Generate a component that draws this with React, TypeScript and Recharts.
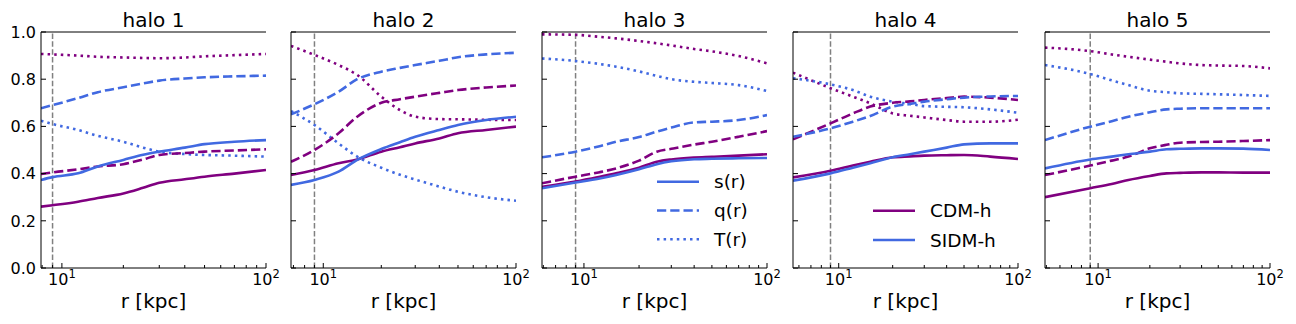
import React from "react"
import { LineChart, Line, XAxis, YAxis, ReferenceLine } from "recharts"

// --- data ---
const HALOS = ["halo 1", "halo 2", "halo 3", "halo 4", "halo 5"]
const R_MIN = [7.9, 6.8, 5.9, 5.56, 4.91]
const R_OUTER = [9, 12, 15, 20, 25, 30, 40, 50, 70, 100]
const R_RES = 9
const Y_TICKS = [0, 0.2, 0.4, 0.6, 0.8, 1.0]
const MINOR_LOW = [2, 3, 4, 5, 6, 7, 8, 9]
const MINOR_HIGH = [20, 30, 40, 50, 60, 70, 80, 90]

// s(r)
const CDM_S = [
  [0.26, 0.266, 0.281, 0.297, 0.316, 0.34, 0.361, 0.376, 0.387, 0.4, 0.415],
  [0.394, 0.415, 0.444, 0.46, 0.493, 0.512, 0.528, 0.549, 0.571, 0.585, 0.599],
  [0.344, 0.366, 0.385, 0.401, 0.425, 0.45, 0.46, 0.468, 0.471, 0.476, 0.482],
  [0.384, 0.412, 0.434, 0.45, 0.469, 0.473, 0.476, 0.478, 0.479, 0.472, 0.462],
  [0.3, 0.338, 0.356, 0.373, 0.39, 0.401, 0.403, 0.405, 0.405, 0.404, 0.404],
]
const SIDM_S = [
  [0.373, 0.385, 0.401, 0.43, 0.458, 0.48, 0.493, 0.51, 0.525, 0.535, 0.542],
  [0.352, 0.373, 0.408, 0.458, 0.504, 0.533, 0.556, 0.585, 0.606, 0.627, 0.641],
  [0.338, 0.362, 0.378, 0.394, 0.418, 0.44, 0.452, 0.461, 0.463, 0.465, 0.466],
  [0.37, 0.401, 0.425, 0.444, 0.469, 0.482, 0.493, 0.51, 0.524, 0.528, 0.528],
  [0.422, 0.46, 0.472, 0.482, 0.493, 0.503, 0.505, 0.507, 0.507, 0.506, 0.5],
]
// q(r)
const CDM_Q = [
  [0.398, 0.405, 0.418, 0.43, 0.44, 0.46, 0.479, 0.487, 0.493, 0.498, 0.503],
  [0.45, 0.5, 0.571, 0.641, 0.7, 0.715, 0.726, 0.742, 0.754, 0.765, 0.773],
  [0.359, 0.387, 0.405, 0.422, 0.455, 0.493, 0.505, 0.523, 0.535, 0.556, 0.58],
  [0.545, 0.613, 0.655, 0.684, 0.7, 0.706, 0.712, 0.72, 0.726, 0.722, 0.712],
  [0.394, 0.434, 0.455, 0.472, 0.507, 0.522, 0.531, 0.534, 0.535, 0.538, 0.542],
]
const SIDM_Q = [
  [0.677, 0.69, 0.72, 0.745, 0.766, 0.782, 0.794, 0.803, 0.808, 0.812, 0.815],
  [0.651, 0.694, 0.747, 0.8, 0.832, 0.848, 0.86, 0.878, 0.893, 0.905, 0.912],
  [0.469, 0.493, 0.515, 0.535, 0.555, 0.578, 0.595, 0.617, 0.62, 0.627, 0.648],
  [0.556, 0.592, 0.62, 0.644, 0.684, 0.695, 0.705, 0.715, 0.722, 0.727, 0.729],
  [0.542, 0.599, 0.622, 0.641, 0.66, 0.672, 0.675, 0.677, 0.677, 0.677, 0.677],
]
// T(r)
const CDM_T = [
  [0.907, 0.905, 0.9, 0.895, 0.892, 0.89, 0.889, 0.892, 0.897, 0.902, 0.907],
  [0.941, 0.903, 0.86, 0.818, 0.726, 0.669, 0.641, 0.631, 0.63, 0.628, 0.627],
  [0.99, 0.988, 0.98, 0.973, 0.962, 0.952, 0.943, 0.928, 0.918, 0.898, 0.867],
  [0.828, 0.762, 0.726, 0.698, 0.655, 0.645, 0.638, 0.627, 0.62, 0.62, 0.628],
  [0.934, 0.919, 0.905, 0.895, 0.883, 0.874, 0.867, 0.86, 0.858, 0.856, 0.846],
]
const SIDM_T = [
  [0.624, 0.61, 0.585, 0.56, 0.535, 0.51, 0.493, 0.483, 0.479, 0.476, 0.472],
  [0.665, 0.606, 0.528, 0.472, 0.425, 0.395, 0.375, 0.345, 0.323, 0.3, 0.285],
  [0.888, 0.877, 0.865, 0.853, 0.833, 0.814, 0.8, 0.789, 0.784, 0.775, 0.75],
  [0.804, 0.778, 0.754, 0.726, 0.705, 0.695, 0.686, 0.683, 0.681, 0.672, 0.658],
  [0.86, 0.822, 0.795, 0.775, 0.751, 0.745, 0.74, 0.738, 0.736, 0.733, 0.729],
]

const PURPLE = "#800080"
const BLUE = "#4169e1"
const FONT = "DejaVu Sans"
const DASHED = "9.25 4"
const DOTTED = "2.5 4.1"

const SERIES = [
  { key: "cdmT", color: PURPLE, dash: DOTTED },
  { key: "sidmT", color: BLUE, dash: DOTTED },
  { key: "cdmQ", color: PURPLE, dash: DASHED },
  { key: "sidmQ", color: BLUE, dash: DASHED },
  { key: "cdmS", color: PURPLE, dash: undefined },
  { key: "sidmS", color: BLUE, dash: undefined },
]

// layout
const PLOT_LEFT = [41, 291, 542, 793, 1045]
const PLOT_W = 225
const PLOT_TOP = 32
const PLOT_BOTTOM = 268
const Y_AXIS_W = 40
const RIGHT_PAD = 30

function XTick(props: any) {
  const { x, y, payload } = props
  const v = payload.value
  const major = v === 10 || v === 100
  return (
    <g>
      <line x1={x} x2={x} y1={y} y2={y - (major ? 5 : 3)} stroke="#000" strokeWidth={1} />
      {major && (
        <text x={x} y={y + 17} textAnchor="middle" fontFamily={FONT} fontSize={16} fill="#000">
          10
          <tspan dy={-7} fontSize={11.5}>{v === 10 ? "1" : "2"}</tspan>
        </text>
      )}
    </g>
  )
}

function YTickLeft(props: any) {
  const { x, y, payload, showLabel } = props
  return (
    <g>
      <line x1={x} x2={x + 5} y1={y} y2={y} stroke="#000" strokeWidth={1} />
      {showLabel && (
        <text x={x - 5} y={y} dy="0.36em" textAnchor="end" fontFamily={FONT} fontSize={16} fill="#000">
          {Number(payload.value).toFixed(1)}
        </text>
      )}
    </g>
  )
}

function YTickRight(props: any) {
  const { x, y } = props
  return <line x1={x} x2={x - 5} y1={y} y2={y} stroke="#000" strokeWidth={1} />
}

function Panel({ h }: { h: number }) {
  const rs = [R_MIN[h], ...R_OUTER]
  const data = rs.map((r, i) => ({
    r,
    cdmS: CDM_S[h][i],
    sidmS: SIDM_S[h][i],
    cdmQ: CDM_Q[h][i],
    sidmQ: SIDM_Q[h][i],
    cdmT: CDM_T[h][i],
    sidmT: SIDM_T[h][i],
  }))
  const xticks = [...MINOR_LOW.filter((v) => v >= R_MIN[h]), 10, ...MINOR_HIGH, 100]

  return (
    <div style={{ position: "absolute", left: PLOT_LEFT[h] - Y_AXIS_W, top: 0 }}>
      <LineChart
        width={Y_AXIS_W + PLOT_W + RIGHT_PAD}
        height={324}
        data={data}
        margin={{ top: PLOT_TOP, right: RIGHT_PAD, bottom: 0, left: 0 }}
        style={{ overflow: "visible" }}
      >
        <XAxis
          dataKey="r"
          type="number"
          scale="log"
          domain={[R_MIN[h], 100]}
          allowDataOverflow
          ticks={xticks}
          interval={0}
          height={324 - PLOT_BOTTOM}
          tickLine={false}
          tickSize={0}
          tickMargin={0}
          axisLine={{ stroke: "#000", strokeWidth: 1 }}
          tick={(p: any) => <XTick {...p} />}
        />
        <YAxis
          yAxisId="l"
          domain={[0, 1]}
          ticks={Y_TICKS}
          interval={0}
          width={Y_AXIS_W}
          tickLine={false}
          tickSize={0}
          tickMargin={0}
          axisLine={{ stroke: "#000", strokeWidth: 1 }}
          tick={(p: any) => <YTickLeft {...p} showLabel={h === 0} />}
        />
        <YAxis
          yAxisId="r"
          orientation="right"
          domain={[0, 1]}
          ticks={Y_TICKS}
          interval={0}
          width={0}
          tickLine={false}
          tickSize={0}
          tickMargin={0}
          axisLine={{ stroke: "#000", strokeWidth: 1 }}
          tick={(p: any) => <YTickRight {...p} />}
        />
        <ReferenceLine yAxisId="l" y={1} stroke="#000" strokeWidth={1} />
        <ReferenceLine yAxisId="l" x={R_RES} stroke="#808080" strokeWidth={1.5} strokeDasharray="5.5 2.4" />
        {SERIES.map((s) => (
          <Line
            key={s.key}
            yAxisId="l"
            type="monotone"
            dataKey={s.key}
            stroke={s.color}
            strokeWidth={2.6}
            strokeDasharray={s.dash}
            dot={false}
            isAnimationActive={false}
          />
        ))}
      </LineChart>
    </div>
  )
}

const STYLE_LEGEND = [
  { label: "s(r)", dash: undefined },
  { label: "q(r)", dash: DASHED },
  { label: "T(r)", dash: DOTTED },
]
const MODEL_LEGEND = [
  { label: "CDM-h", color: PURPLE },
  { label: "SIDM-h", color: BLUE },
]

export default function App() {
  return (
    <div style={{ position: "absolute", left: 0, top: 0, width: 1296, height: 324, background: "#fff" }}>
      {HALOS.map((_, h) => (
        <Panel key={h} h={h} />
      ))}
      <svg
        width={1296}
        height={324}
        style={{ position: "absolute", left: 0, top: 0, pointerEvents: "none" }}
      >
        {HALOS.map((name, h) => (
          <g key={name}>
            <text x={PLOT_LEFT[h] + PLOT_W / 2} y={27} textAnchor="middle" fontFamily={FONT} fontSize={20} fill="#000">
              {name}
            </text>
            <text x={PLOT_LEFT[h] + PLOT_W / 2} y={308} textAnchor="middle" fontFamily={FONT} fontSize={20} fill="#000">
              r [kpc]
            </text>
          </g>
        ))}
        {STYLE_LEGEND.map((s, i) => {
          const y = 181.7 + i * 28.8
          return (
            <g key={s.label}>
              <line x1={657} x2={699} y1={y} y2={y} stroke={BLUE} strokeWidth={2.6} strokeDasharray={s.dash} />
              <text x={714} y={y} dy="0.36em" fontFamily={FONT} fontSize={18.5} fill="#000">
                {s.label}
              </text>
            </g>
          )
        })}
        {MODEL_LEGEND.map((s, i) => {
          const y = 210.7 + i * 29.3
          return (
            <g key={s.label}>
              <line x1={873} x2={915} y1={y} y2={y} stroke={s.color} strokeWidth={2.6} />
              <text x={930} y={y} dy="0.36em" fontFamily={FONT} fontSize={18.5} fill="#000">
                {s.label}
              </text>
            </g>
          )
        })}
      </svg>
    </div>
  )
}
